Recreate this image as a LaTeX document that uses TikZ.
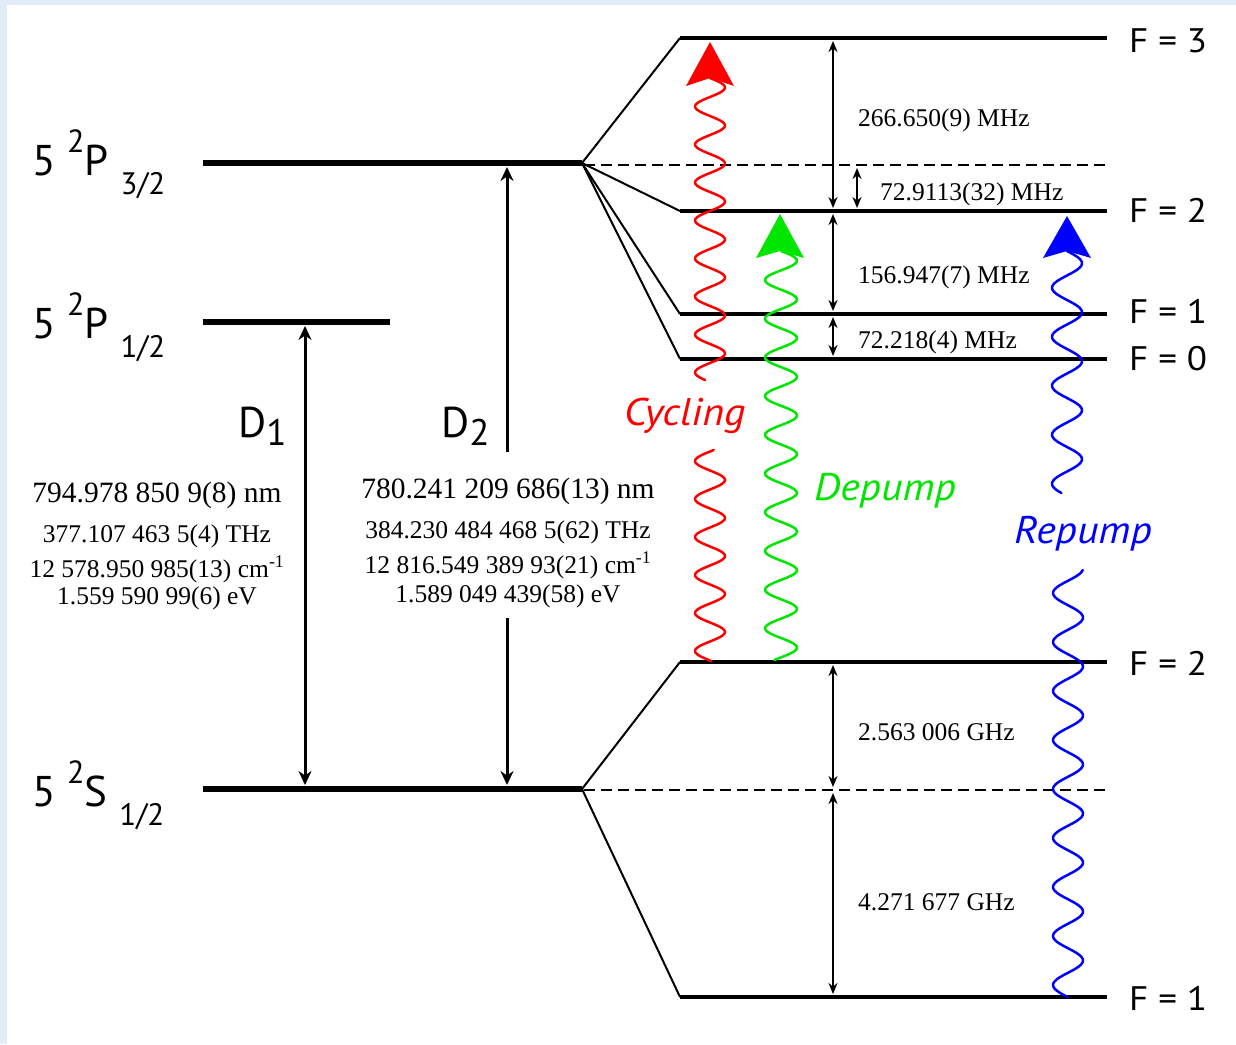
\documentclass[tikz,border=0pt]{standalone}
\usepackage{fontspec}
\setmainfont{Liberation Serif}
\newfontfamily\sansf{PT Sans}
\newfontfamily\sanswide{PT Sans}[FakeStretch=1.09]
\usetikzlibrary{arrows.meta}
\definecolor{bgblue}{RGB}{226,236,247}
\definecolor{wred}{RGB}{255,0,0}
\definecolor{wgreen}{RGB}{0,230,0}
\definecolor{wblue}{RGB}{0,0,255}
\newcommand{\statelab}[2]{{\sansf\fontsize{43}{43}\selectfont 5 \raisebox{23pt}{\fontsize{32}{32}\selectfont 2}#1\hspace{12pt}\raisebox{-19pt}{\fontsize{31}{31}\selectfont #2}}}
\newcommand{\dlab}[1]{{\sansf\fontsize{43}{43}\selectfont D\raisebox{-8pt}{\fontsize{37}{37}\selectfont #1}}}
\tikzset{
  finelvl/.style={line width=6.5pt},
  hflvl/.style={line width=3.5pt},
  diag/.style={line width=2pt},
  dashlvl/.style={line width=1.5pt, dash pattern=on 11pt off 6pt},
  gap/.style={line width=1.8pt, >={Stealth[length=11pt,width=9pt]}, <->},
  bigarr/.style={line width=3pt, >={Stealth[length=14pt,width=13pt]}},
  flab/.style={font=\sanswide\fontsize{34}{34}\selectfont, anchor=base west, inner sep=0pt},
  numbig/.style={font=\fontsize{29.5}{29.5}\selectfont, anchor=base, inner sep=0pt},
  numsm/.style={font=\fontsize{25.5}{25.5}\selectfont, anchor=base, inner sep=0pt},
  freq/.style={font=\fontsize{25.5}{25.5}\selectfont, anchor=base west, inner sep=0pt},
  wave/.style={line width=2.5pt, line cap=round, line join=round},
  wlab/.style={font=\sanswide\itshape\fontsize{38.5}{38.5}\selectfont, anchor=base west, inner sep=0pt},
}
\begin{document}
\begin{tikzpicture}[x=1pt,y=-1pt]
\useasboundingbox (0,0) rectangle (1236,1044);
\fill[bgblue] (0,0) rectangle (1236,1044);
\fill[white] (7,5) rectangle (1236,1044);

% coordinates
\coordinate (P32L) at (203,163); \coordinate (P32R) at (582,163);
\coordinate (P12L) at (203,322); \coordinate (P12R) at (390,322);
\coordinate (S12L) at (203,789); \coordinate (S12R) at (582,789);
\coordinate (F3L) at (680,38);   \coordinate (F3R) at (1107,38);
\coordinate (F2eL) at (680,211); \coordinate (F2eR) at (1107,211);
\coordinate (F1eL) at (680,314); \coordinate (F1eR) at (1107,314);
\coordinate (F0eL) at (680,359); \coordinate (F0eR) at (1107,359);
\coordinate (F2gL) at (680,662); \coordinate (F2gR) at (1107,662);
\coordinate (F1gL) at (680,997); \coordinate (F1gR) at (1107,997);
\coordinate (PdashE) at (1105,165); \coordinate (PdashS) at (584,165);
\coordinate (SdashE) at (1105,790); \coordinate (SdashS) at (584,790);

% fine-structure levels
\draw[finelvl] (P32L) -- (P32R);
\draw[finelvl] (P12L) -- (P12R);
\draw[finelvl] (S12L) -- (S12R);

% hyperfine fans
\draw[diag] (P32R) -- (F3L);
\draw[diag] (P32R) -- (F2eL);
\draw[diag] (P32R) -- (F1eL);
\draw[diag] (P32R) -- (F0eL);
\draw[diag] (S12R) -- (F2gL);
\draw[diag] (S12R) -- (F1gL);

% hyperfine levels
\draw[hflvl] (F3L) -- (F3R);
\draw[hflvl] (F2eL) -- (F2eR);
\draw[hflvl] (F1eL) -- (F1eR);
\draw[hflvl] (F0eL) -- (F0eR);
\draw[hflvl] (F2gL) -- (F2gR);
\draw[hflvl] (F1gL) -- (F1gR);
\draw[dashlvl] (PdashS) -- (PdashE);
\draw[dashlvl] (SdashS) -- (SdashE);

% state labels
\node[anchor=base west, inner sep=0pt] (lP32) at (32,175) {\statelab{P}{3/2}};
\node[anchor=base west, inner sep=0pt] (lP12) at (32,338) {\statelab{P}{1/2}};
\node[anchor=base west, inner sep=0pt] (lS12) at (32,806) {\statelab{S}{1/2}};

% D lines
\coordinate (D1t) at (305,326); \coordinate (D1b) at (305,785);
\draw[bigarr, <->] (D1t) -- (D1b);
\coordinate (D2t) at (507,167); \coordinate (D2m1) at (507,452);
\coordinate (D2m2) at (507,618); \coordinate (D2b) at (507,785);
\draw[bigarr, ->] (D2m1) -- (D2t);
\draw[bigarr, ->] (D2m2) -- (D2b);
\node[anchor=base west, inner sep=0pt] (lD1) at (238,437) {\dlab{1}};
\node[anchor=base west, inner sep=0pt] (lD2) at (441,437) {\dlab{2}};

% D1 data
\node[numbig] (d1a) at (157,502) {794.978 850 9(8) nm};
\node[numsm] (d1b) at (157,542) {377.107 463 5(4) THz};
\node[numsm] (d1c) at (157,577) {12 578.950 985(13) cm\textsuperscript{-1}};
\node[numsm] (d1d) at (157,604) {1.559 590 99(6) eV};
% D2 data
\node[numbig] (d2a) at (508,498) {780.241 209 686(13) nm};
\node[numsm] (d2b) at (508,538) {384.230 484 468 5(62) THz};
\node[numsm] (d2c) at (508,573) {12 816.549 389 93(21) cm\textsuperscript{-1}};
\node[numsm] (d2d) at (508,602) {1.589 049 439(58) eV};

% splitting arrows
\coordinate (a1t) at (833,41);  \coordinate (a1b) at (833,208);
\coordinate (a2t) at (857,168); \coordinate (a2b) at (857,208);
\coordinate (a3t) at (833,214); \coordinate (a3b) at (833,311);
\coordinate (a4t) at (833,317); \coordinate (a4b) at (833,356);
\coordinate (a5t) at (833,665); \coordinate (a5b) at (833,787);
\coordinate (a6t) at (833,793); \coordinate (a6b) at (833,994);
\draw[gap] (a1t) -- (a1b);
\draw[gap] (a2t) -- (a2b);
\draw[gap] (a3t) -- (a3b);
\draw[gap] (a4t) -- (a4b);
\draw[gap] (a5t) -- (a5b);
\draw[gap] (a6t) -- (a6b);
\node[freq] (f1) at (858,126) {266.650(9) MHz};
\node[freq] (f2) at (880,200) {72.9113(32) MHz};
\node[freq] (f3) at (858,283) {156.947(7) MHz};
\node[freq] (f4) at (858,348) {72.218(4) MHz};
\node[freq] (f5) at (858,740) {2.563 006 GHz};
\node[freq] (f6) at (858,910) {4.271 677 GHz};

% F labels
\node[flab] (lF3) at (1129,52) {F = 3};
\node[flab] (lF2e) at (1129,222) {F = 2};
\node[flab] (lF1e) at (1129,323) {F = 1};
\node[flab] (lF0e) at (1129,370) {F = 0};
\node[flab] (lF2g) at (1129,675) {F = 2};
\node[flab] (lF1g) at (1129,1010) {F = 1};

% wavy laser arrows
\draw[wave, wred] plot[domain=78:380, samples=200, variable=\t] ({710+15*sin((\t-78)*9.47368)}, \t);
\draw[wave, wred] plot[domain=450:661, samples=150, variable=\t] ({710+15*sin(90+(\t-480)*9.47368)}, \t);
\fill[wred] (710,42) -- (734,86) -- (710,78) -- (686,86) -- cycle;

\draw[wave, wgreen] plot[domain=251:660, samples=250, variable=\t] ({781+16*sin((\t-251)*9.30233)}, \t);
\fill[wgreen] (780,214) -- (804,258) -- (780,251) -- (756,258) -- cycle;

\draw[wave, wblue] plot[domain=251:493, samples=150, variable=\t] ({1067+15*sin((\t-251)*7.34694)}, \t);
\draw[wave, wblue] plot[domain=570:997, samples=250, variable=\t] ({1068-15*sin(90+(\t-593)*7.34694)}, \t);
\fill[wblue] (1067,216) -- (1091,258) -- (1067,251) -- (1043,258) -- cycle;

\node[wlab, wred] (lcyc) at (624,425) {Cycling};
\node[wlab, wgreen] (ldep) at (814,500) {Depump};
\node[wlab, wblue] (lrep) at (1014,543) {Repump};
\end{tikzpicture}
\end{document}
